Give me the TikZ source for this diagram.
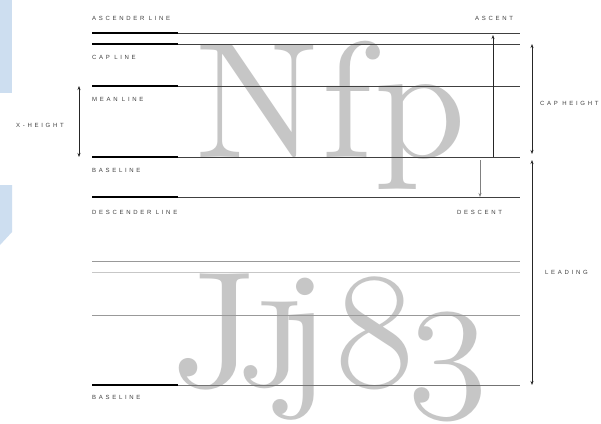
\RequirePackage{fix-cm}
\documentclass[tikz,border=0pt]{standalone}
\usepackage{fontspec}
\usetikzlibrary{arrows.meta}
\newfontfamily\lblfont[LetterSpace=45]{Liberation Sans}
\newfontfamily\bigfont{lmroman10-regular.otf}
\newfontfamily\bigsc{lmromancaps10-regular.otf}
\newcommand{\osf}[1]{{\fontencoding{OML}\fontfamily{cmm}\fontseries{m}\fontshape{it}\selectfont #1}}
\newcommand{\gbox}[2]{\makebox[#1pt][c]{#2}}
\definecolor{stripblue}{RGB}{205,222,240}
\definecolor{glyphgray}{RGB}{198,198,198}
\tikzset{
  lbl/.style={font=\lblfont\fontsize{6}{7}\selectfont, text=black!75, inner sep=0pt},
  bigtxt/.style={font=\bigfont\fontsize{165}{165}\selectfont, text=glyphgray, inner sep=0pt, anchor=base west},
  thinline/.style={draw=black!75, line width=0.8pt},
  thickline/.style={draw=black, line width=2pt},
  graylineA/.style={draw=black!40, line width=0.8pt},
  graylineB/.style={draw=black!22, line width=0.8pt},
  dim/.style={draw=black!85, line width=0.7pt, -{Stealth[length=4pt,width=3pt]}},
  dimboth/.style={draw=black!85, line width=0.7pt, {Stealth[length=4pt,width=3pt]}-{Stealth[length=4pt,width=3pt]}},
}
\begin{document}
\begin{tikzpicture}[x=1pt,y=-1pt]
\useasboundingbox[fill=white] (0,0) rectangle (601,423);
% side strips
\fill[stripblue] (0,0) rectangle (12,93);
\fill[stripblue] (0,185) -- (12,185) -- (12,232) -- (0,245) -- cycle;
% big glyphs
\node[bigtxt] (nfp) at (190,157) {\gbox{134}{N}\gbox{46}{f}\gbox{100}{p}};
\node[bigtxt] (jjj) at (190,386) {\gbox{50}{J}\gbox{62}{\bigsc j}\gbox{6}{j}\gbox{134}{\osf{8}}\gbox{12}{\osf{3}}};
% line coordinates
\foreach \n/\y in {asc/33,cap/44,mean/86,base/157,desc/197,l1/261,l2/272,l3/315,base2/385}{
  \coordinate (\n L) at (92,\y);
  \coordinate (\n M) at (178,\y);
  \coordinate (\n R) at (520,\y);
}
\foreach \n in {asc,cap,mean,base,desc}{
  \draw[thinline] (\n L) -- (\n R);
  \draw[thickline] (\n L) -- (\n M);
}
\draw[graylineA] (l1L) -- (l1R);
\draw[graylineB] (l2L) -- (l2R);
\draw[graylineA] (l3L) -- (l3R);
\draw[draw=black!55, line width=0.8pt] (base2L) -- (base2R);
\draw[thickline] (base2L) -- (base2M);
% labels
\node[lbl, anchor=west] (lasc) at (92,18) {ASCENDER LINE};
\node[lbl, anchor=west] (lcap) at (92,57) {CAP LINE};
\node[lbl, anchor=west] (lmean) at (92,99) {MEAN LINE};
\node[lbl, anchor=west] (lbase) at (92,170) {BASELINE};
\node[lbl, anchor=west] (ldesc) at (92,212) {DESCENDER LINE};
\node[lbl, anchor=west] (lbase2) at (92,397) {BASELINE};
\node[lbl, anchor=west] (lxh) at (16,125) {X-HEIGHT};
\node[lbl, anchor=west] (lascent) at (475,18) {ASCENT};
\node[lbl, anchor=west] (ldescent) at (457,212) {DESCENT};
\node[lbl, anchor=west] (lcaph) at (540,103) {CAP HEIGHT};
\node[lbl, anchor=west] (llead) at (545,272) {LEADING};
% dimension arrows
\coordinate (xhT) at (79,86);
\coordinate (xhB) at (79,157);
\draw[dimboth] (xhT) -- (xhB);
\coordinate (ascB) at (493,157);
\coordinate (ascT) at (493,35);
\draw[dim] (ascB) -- (ascT);
\coordinate (dsT) at (480,160);
\coordinate (dsB) at (480,197);
\draw[dim, draw=black!50] (dsT) -- (dsB);
\coordinate (chT) at (532,44);
\coordinate (chB) at (532,154);
\draw[dimboth] (chT) -- (chB);
\coordinate (ldT) at (532,160);
\coordinate (ldB) at (532,385);
\draw[dimboth] (ldT) -- (ldB);
\end{tikzpicture}
\end{document}
